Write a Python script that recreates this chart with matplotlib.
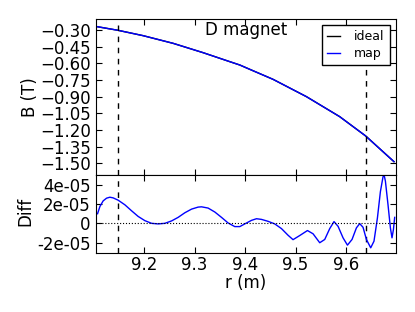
import matplotlib
matplotlib.use("Agg")
import matplotlib.pyplot as plt
from matplotlib.ticker import FuncFormatter, FormatStrFormatter

# field along r
r_field = [9.1069, 9.1485, 9.198, 9.2574, 9.3168, 9.3697, 9.3895, 9.4093, 9.4554,
           9.5216, 9.5875, 9.6390, 9.6950]
b_field = [-0.270, -0.303, -0.351, -0.420, -0.504, -0.585, -0.615, -0.654, -0.744,
           -0.900, -1.080, -1.254, -1.485]

# map - ideal difference (units of 1e-5)
r_diff = [9.1077, 9.1123, 9.1188, 9.1255, 9.1321, 9.1386, 9.1485, 9.1618, 9.1750,
          9.1881, 9.2014, 9.2147, 9.2277, 9.2410, 9.2543, 9.2673, 9.2806, 9.2939,
          9.3069, 9.3137, 9.3267, 9.3400, 9.3533, 9.3663, 9.3796, 9.3895, 9.3994,
          9.4127, 9.4226, 9.4325, 9.4455, 9.4588, 9.4721, 9.4851, 9.4950, 9.5083,
          9.5236, 9.5347, 9.5479, 9.5578, 9.5677, 9.5762, 9.5842, 9.5941, 9.6028,
          9.6119, 9.6206, 9.6271, 9.6337, 9.6404, 9.6489, 9.6554, 9.6622, 9.6681,
          9.6733, 9.6756, 9.6780, 9.6832, 9.6879, 9.6911, 9.6939, 9.6964]
diff = [1.00, 1.75, 2.34, 2.62, 2.72, 2.65, 2.41, 1.93, 1.31,
        0.72, 0.28, 0.00, -0.06, 0.00, 0.25, 0.62, 1.10, 1.48,
        1.69, 1.72, 1.59, 1.18, 0.62, 0.04, -0.34, -0.34, -0.06,
        0.31, 0.48, 0.41, 0.21, -0.06, -0.55, -1.24, -1.70, -1.27,
        -0.75, -1.09, -2.02, -1.68, -0.55, 0.18, -0.31, -1.51, -2.27,
        -1.68, -0.47, -0.03, -0.41, -1.68, -2.55, -1.86, 0.56, 3.30,
        4.85, 5.00, 4.40, 1.93, -0.47, -1.51, -0.65, 0.62]
diff = [d * 1e-5 for d in diff]

edges = [9.1485, 9.639]
b_ticks = [-0.30, -0.45, -0.60, -0.75, -0.90, -1.05, -1.20, -1.35, -1.50]
d_ticks = [-2e-5, 0, 2e-5, 4e-5]
r_ticks = [9.2, 9.3, 9.4, 9.5, 9.6]

plt.rcParams['font.family'] = ['DejaVu Sans']
plt.rcParams['font.size'] = 12
plt.rcParams['xtick.direction'] = 'in'
plt.rcParams['ytick.direction'] = 'in'
plt.rcParams['xtick.top'] = True
plt.rcParams['ytick.right'] = True
plt.rcParams['xtick.major.size'] = 4
plt.rcParams['ytick.major.size'] = 4
plt.rcParams['xtick.major.pad'] = 2.5

fig = plt.figure(figsize=(4.15, 3.12), dpi=100)
ax1 = fig.add_axes([0.2306, 0.4391, 0.7236, 0.5])
ax2 = fig.add_axes([0.2306, 0.19, 0.7236, 0.249])

ax1.plot(r_field, b_field, color='k', lw=1, label='ideal')
ax1.plot(r_field, b_field, color='b', lw=1, label='map')
for e in edges:
    ax1.axvline(e, color='k', ls='--', lw=1, dashes=(4, 4))
    ax2.axvline(e, color='k', ls='--', lw=1, dashes=(4, 4))
ax1.set_ylim(-1.605, -0.201)
ax1.set_yticks(b_ticks)
# top panel uses the long minus sign, the bottom one plain hyphens
ax1.yaxis.set_major_formatter(FuncFormatter(lambda v, pos: ('%.2f' % v).replace('-', '\u2212')))
ax1.set_ylabel('B (T)', va='center')
ax1.yaxis.set_label_coords(-0.220, 0.5)
ax1.text(0.5, 0.93, 'D magnet', transform=ax1.transAxes, ha='center', va='center')
leg = ax1.legend(loc='upper right', fontsize=9, fancybox=False, framealpha=1,
                 handlelength=1.1, handletextpad=1.1, borderpad=0.4,
                 borderaxespad=0.5, labelspacing=0.3)
leg.get_frame().set_edgecolor('k')
leg.get_frame().set_linewidth(1)

ax2.plot(r_diff, diff, color='b', lw=1)
ax2.axhline(0, color='k', ls=':', lw=0.8)
ax2.set_ylim(-3.06e-5, 5.03e-5)
ax2.set_yticks(d_ticks)
ax2.yaxis.set_major_formatter(FormatStrFormatter('%g'))
ax2.set_ylabel('Diff', va='center')
ax2.yaxis.set_label_coords(-0.233, 0.528)
ax2.set_xlabel('r (m)', va='center')
ax2.xaxis.set_label_coords(0.5, -0.395)

for ax in (ax1, ax2):
    ax.set_xlim(9.104, 9.699)
    ax.set_xticks(r_ticks)
ax1.set_xticklabels([])

fig.savefig('out.png', dpi=100)
